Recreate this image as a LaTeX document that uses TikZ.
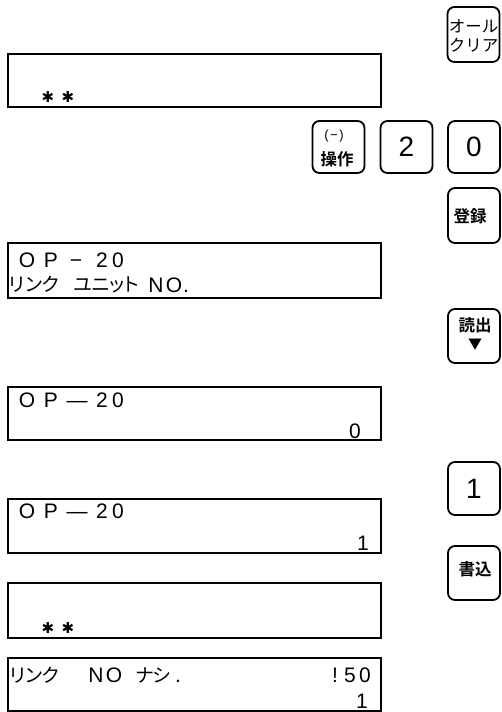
\documentclass[tikz,border=0pt]{standalone}
\usepackage{fontspec}
\newfontfamily\cjk{Noto Sans CJK JP}
\newfontfamily\cjkb{Noto Sans CJK JP Bold}
\newfontfamily\lat{Liberation Sans}
\newfontfamily\dvs{DejaVu Sans}
\begin{document}
\begin{tikzpicture}[x=1pt,y=-1pt,
  disp/.style={draw,line width=1.4pt,minimum width=373pt,inner sep=0pt},
  keybox/.style={draw,line width=1.8pt,rounded corners=7pt,minimum width=52pt,inner sep=0pt},
  lcd/.style={font=\lat\fontsize{21}{21}\selectfont,inner sep=0pt,anchor=base},
  lcdk/.style={font=\cjk\fontsize{19}{19}\selectfont,inner sep=0pt,anchor=base},
  star/.style={font=\dvs\fontsize{15}{15}\selectfont,inner sep=0pt,anchor=center},
  keytxt/.style={font=\cjkb\fontsize{16.5}{16.5}\selectfont,inner sep=0pt},
  keykana/.style={font=\cjk\fontsize{16.5}{16.5}\selectfont,inner sep=0pt},
  keydigit/.style={font=\lat\fontsize{28}{28}\selectfont,inner sep=0pt}]
\useasboundingbox (0,0) rectangle (502,712);
% displays
\node[disp,minimum height=53pt] (d1) at (194.5,80.5) {};
\node[disp,minimum height=55pt] (d2) at (194.5,270.5) {};
\node[disp,minimum height=53pt] (d3) at (194.5,413.5) {};
\node[disp,minimum height=54pt] (d4) at (194.5,526) {};
\node[disp,minimum height=55pt] (d5) at (194.5,610.5) {};
\node[disp,minimum height=53pt] (d6) at (194.5,684.5) {};
% display texts
\node[star] (s1a) at (48,97) {✱};
\node[star] (s1b) at (68,97) {✱};
\foreach \c/\x [count=\i] in {O/27,P/51,{−}/76,2/102,0/118}
  \node[lcd] (t2a\i) at (\x,267) {\c};
\foreach \c/\x [count=\i] in {リ/17,ン/34,ク/51,ユ/83,ニ/101,ッ/117,ト/131}
  \node[lcdk] (t2b\i) at (\x,291) {\c};
\foreach \c/\x [count=\i] in {N/156,O/174,./186}
  \node[lcd] (t2c\i) at (\x,292) {\c};
\foreach \c/\x [count=\i] in {O/27,P/51,{—}/77,2/102,0/118}
  \node[lcd] (t3a\i) at (\x,407) {\c};
\node[lcd] (t3b) at (355,438) {0};
\foreach \c/\x [count=\i] in {O/27,P/51,{—}/77,2/102,0/118}
  \node[lcd] (t4a\i) at (\x,518) {\c};
\node[lcd] (t4b) at (363,550) {1};
\node[star] (s5a) at (48,628) {✱};
\node[star] (s5b) at (68,628) {✱};
\foreach \c/\x [count=\i] in {リ/18,ン/34,ク/51,ナ/145,シ/162}
  \node[lcdk] (t6a\i) at (\x,682) {\c};
\foreach \c/\x [count=\i] in {N/96,O/114,./178,!/335,5/350,0/365}
  \node[lcd] (t6c\i) at (\x,682) {\c};
\node[lcd] (t6b) at (362,708) {1};
% keys
\node[keybox,minimum height=55pt] (kac) at (473.5,34.5) {};
\node[keykana] (kac1) at (473.5,26) {オール};
\node[keykana] (kac2) at (473.5,45) {クリア};
\node[keybox,minimum height=52pt] (kop) at (338.5,147) {};
\node[font=\lat\fontsize{13}{13}\selectfont,inner sep=0pt] (kop1) at (334,136) {(\kern1.5pt−\kern1.5pt)};
\node[keytxt] (kop2) at (337,159) {操作};
\node[keybox,minimum height=52pt,keydigit] (k2) at (406.5,147) {2};
\node[keybox,minimum height=52pt,keydigit] (k0) at (474,147) {0};
\node[keybox,minimum height=55pt] (kreg) at (474,215.5) {};
\node[keytxt] (kreg1) at (470,216) {登録};
\node[keybox,minimum height=54pt] (krd) at (474,336) {};
\node[keytxt] (krd1) at (475,325) {読出};
\node[font=\cjk\fontsize{14}{14}\selectfont,inner sep=0pt] (krd2) at (475,345) {▼};
\node[keybox,minimum height=53pt,keydigit] (k1) at (474,488.5) {1};
\node[keybox,minimum height=54pt] (kwr) at (474,573) {};
\node[keytxt] (kwr1) at (475,569) {書込};
\end{tikzpicture}
\end{document}
